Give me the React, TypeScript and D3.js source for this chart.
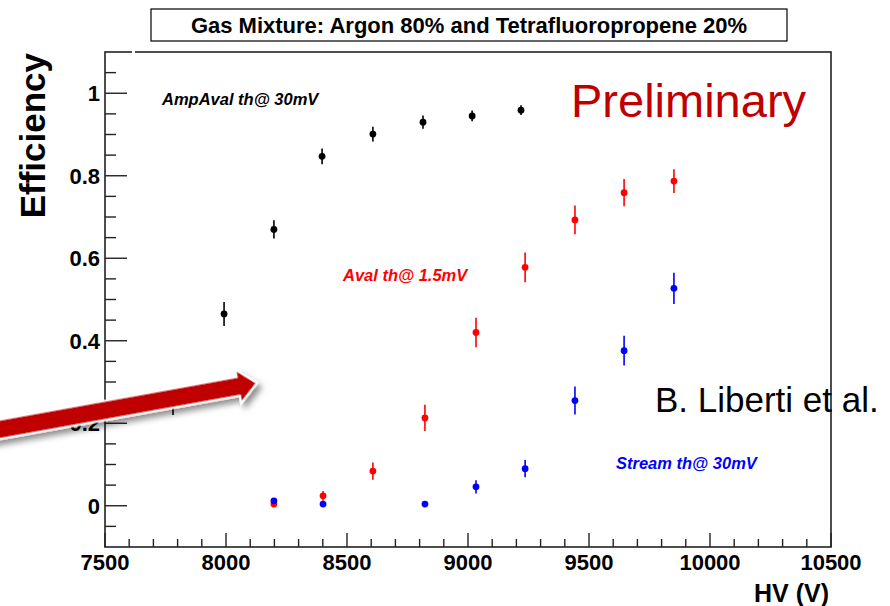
import React from "react";
import * as d3 from "d3";

const W = 890;
const H = 606;

const titleText = "Gas Mixture: Argon 80% and Tetrafluoropropene 20%";
const xTicksMajor = [7500, 8000, 8500, 9000, 9500, 10000, 10500];
const yTicksMajor = [0, 0.2, 0.4, 0.6, 0.8, 1];

// AmpAval th@ 30mV (black)
const hvBlack = [7781, 7992, 8198, 8397, 8607, 8814, 9017, 9219];
const effBlack = [0.249, 0.465, 0.67, 0.847, 0.901, 0.93, 0.945, 0.959];
const errBlack = [0.029, 0.029, 0.022, 0.019, 0.018, 0.016, 0.013, 0.012];

// Aval th@ 1.5mV (red)
const hvRed = [8198, 8401, 8607, 8822, 9033, 9236, 9442, 9645, 9851];
const effRed = [0.004, 0.024, 0.084, 0.213, 0.42, 0.578, 0.693, 0.759, 0.787];
const errRed = [0.005, 0.012, 0.021, 0.032, 0.036, 0.036, 0.035, 0.033, 0.029];

// Stream th@ 30mV (blue)
const hvBlue = [8198, 8401, 8822, 9033, 9236, 9442, 9645, 9851];
const effBlue = [0.012, 0.004, 0.004, 0.046, 0.09, 0.255, 0.376, 0.527];
const errBlue = [0.006, 0.004, 0.004, 0.016, 0.021, 0.034, 0.036, 0.038];

const FONT = "'Liberation Sans', Arial, Helvetica, sans-serif";

export default function App() {
  const left = 105, right = 831, top = 52, bottom = 547;
  const x = d3.scaleLinear().domain([7500, 10500]).range([left, right]);
  const y = d3.scaleLinear().domain([-0.1, 1.1]).range([bottom, top]);

  const xMinor = d3.range(7500, 10501, 100).filter((v) => v % 500 !== 0);
  const yMinor = d3.range(-0.05, 1.1, 0.05).filter(
    (v) => Math.abs(Math.round(v * 5) - v * 5) > 1e-6
  );

  const series = [
    { hv: hvBlack, eff: effBlack, err: errBlack, color: "#000000" },
    { hv: hvRed, eff: effRed, err: errRed, color: "#ff0000" },
    { hv: hvBlue, eff: effBlue, err: errBlue, color: "#0000ff" },
  ];

  // arrow geometry (annotation)
  const sx = -12, sy = 431.5, tx = 257, ty = 383;
  const ang = (Math.atan2(ty - sy, tx - sx) * 180) / Math.PI;
  const L = Math.hypot(tx - sx, ty - sy);
  const hw = 9.5, headLen = 19, headHw = 17;
  const arrowPts = [
    [0, -hw],
    [L - headLen, -hw],
    [L - headLen, -headHw],
    [L, 0],
    [L - headLen, headHw],
    [L - headLen, hw],
    [0, hw],
  ]
    .map((p) => p.join(","))
    .join(" ");

  return (
    <svg
      width={W}
      height={H}
      style={{ position: "absolute", left: 0, top: 0, background: "#fff" }}
      fontFamily={FONT}
    >
      <defs>
        <filter id="shadow" x="-20%" y="-50%" width="140%" height="200%">
          <feDropShadow dx="3" dy="5" stdDeviation="3" floodColor="#000" floodOpacity="0.45" />
        </filter>
      </defs>
      <rect x={0} y={0} width={W} height={H} fill="#fff" />

      {/* title box */}
      <rect x={151} y={9} width={636} height={32} fill="#fff" stroke="#000" strokeWidth={1.2} />
      <text x={469} y={32.5} textAnchor="middle" fontSize={22} fontWeight="bold" fill="#000">
        {titleText}
      </text>

      {/* frame */}
      <rect x={left} y={top} width={right - left} height={bottom - top} fill="none" stroke="#222" strokeWidth={1.6} />
      <rect x={132} y={50} width={3} height={4} fill="#fff" />

      {/* y ticks */}
      {yTicksMajor.map((v) => (
        <g key={"ym" + v}>
          <line x1={left} x2={left + 22} y1={y(v)} y2={y(v)} stroke="#222" strokeWidth={1.4} />
          <text x={100} y={y(v)} dy="0.36em" textAnchor="end" fontSize={22} fontWeight="bold">
            {d3.format("~g")(v)}
          </text>
        </g>
      ))}
      {yMinor.map((v) => (
        <line key={"yn" + v} x1={left} x2={left + 11} y1={y(v)} y2={y(v)} stroke="#222" strokeWidth={1.4} />
      ))}

      {/* x ticks */}
      {xTicksMajor.map((v) => (
        <g key={"xm" + v}>
          <line x1={x(v)} x2={x(v)} y1={bottom} y2={bottom - 14} stroke="#222" strokeWidth={1.4} />
          <text x={x(v)} y={570} textAnchor="middle" fontSize={22} fontWeight="bold">
            {v}
          </text>
        </g>
      ))}
      {xMinor.map((v) => (
        <line key={"xn" + v} x1={x(v)} x2={x(v)} y1={bottom} y2={bottom - 8} stroke="#222" strokeWidth={1.4} />
      ))}

      {/* axis titles */}
      <text x={829} y={602} textAnchor="end" fontSize={25} fontWeight="bold">
        HV (V)
      </text>
      <text
        transform="translate(45,53) rotate(-90)"
        textAnchor="end"
        fontSize={35}
        fontWeight="bold"
      >
        Efficiency
      </text>

      {/* data */}
      {series.map((s, si) => (
        <g key={"s" + si}>
          {s.hv.map((h, i) => (
            <g key={i}>
              <line
                x1={x(h)}
                x2={x(h)}
                y1={y(s.eff[i] - s.err[i])}
                y2={y(s.eff[i] + s.err[i])}
                stroke={s.color}
                strokeWidth={1.6}
              />
              <circle cx={x(h)} cy={y(s.eff[i])} r={3.4} fill={s.color} />
            </g>
          ))}
        </g>
      ))}

      {/* labels */}
      <text x={162} y={105} fontSize={16.5} fontWeight="bold" fontStyle="italic" fill="#000">
        AmpAval th@ 30mV
      </text>
      <text x={343} y={281} fontSize={16.5} fontWeight="bold" fontStyle="italic" fill="#ff0000">
        Aval th@ 1.5mV
      </text>
      <text x={616} y={469} fontSize={16.5} fontWeight="bold" fontStyle="italic" fill="#0000ff">
        Stream th@ 30mV
      </text>

      <text x={571} y={117} fontSize={47} fill="#c00000">
        Preliminary
      </text>
      <text x={655} y={412} fontSize={35} fill="#000">
        B. Liberti et al.
      </text>

      {/* arrow annotation */}
      <g transform={`translate(${sx},${sy}) rotate(${ang})`} filter="url(#shadow)">
        <polygon points={arrowPts} fill="#c00000" stroke="#fff" strokeWidth={2} strokeLinejoin="miter" />
      </g>
    </svg>
  );
}
